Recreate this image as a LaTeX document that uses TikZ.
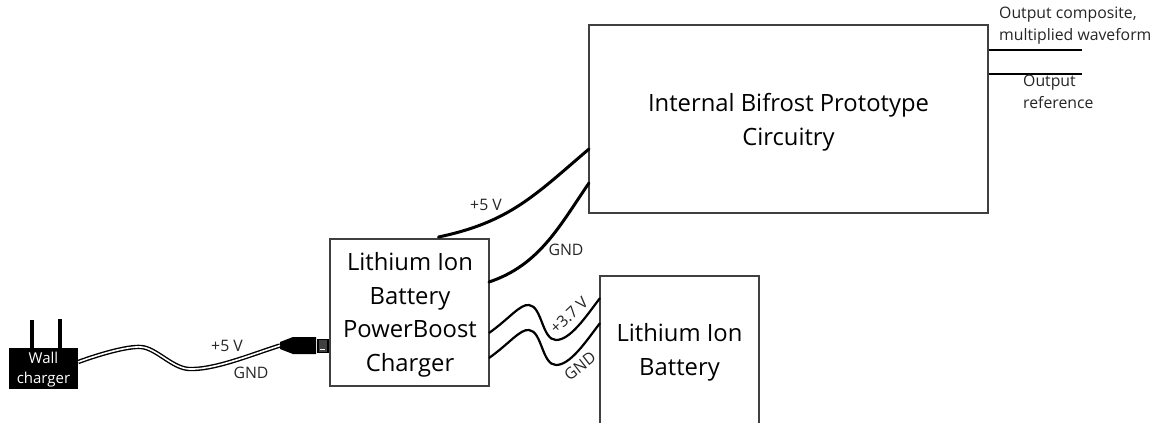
\documentclass[tikz,border=0pt]{standalone}
\usepackage{fontspec}
\setmainfont{Open Sans}
\begin{document}
\begin{tikzpicture}[x=1pt,y=-1pt,
  boxline/.style={draw=black!75,line width=1.5pt},
  block/.style={boxline,inner sep=0pt,align=center,font=\fontsize{23.8}{33.5}\selectfont},
  plainblock/.style={inner sep=0pt,align=center,font=\fontsize{23.8}{33.5}\selectfont},
  blocktext/.style={inner sep=0pt,align=center,font=\fontsize{23.8}{33.5}\selectfont},
  wire/.style={draw=black,line width=2.2pt},
  heavy/.style={draw=black,line width=3pt,line cap=round},
  lab/.style={inner sep=0pt,font=\fontsize{15.8}{22}\selectfont,text=black!85,align=left}]
\useasboundingbox (0,0) rectangle (1158,423);
\fill[white] (0,0) rectangle (1158,423);
% blocks
\node[boxline,minimum width=399pt,minimum height=188pt] (proto) at (788.5,119) {};
\node[blocktext] (prototext) at (788.5,122.5) {Internal Bifrost Prototype\\Circuitry};
\node[boxline,minimum width=159pt,minimum height=147pt] (boost) at (409.5,312.5) {};
\node[blocktext] (boosttext) at (410,315) {Lithium Ion\\Battery\\PowerBoost\\Charger};
\node[plainblock,minimum width=159pt,minimum height=147pt] (batt) at (679.5,349.5) {};
\node[blocktext] (batttext) at (679.5,352.5) {Lithium Ion\\Battery};
\draw[boxline] (batt.south west)--(batt.north west)--(batt.north east)--(batt.south east);
% wall charger
\node[fill=black,minimum width=69pt,minimum height=41pt,inner sep=0pt] (wall) at (43.5,368.5) {};
\node[text=white,inner sep=0pt,align=center,font=\fontsize{15}{20.5}\selectfont] (walltext) at (43.5,369.5) {Wall\\charger};
\coordinate (p1) at (32,320); \coordinate (p2) at (60,319);
\draw[line width=4pt] (p1) -- (p1 |- wall.north);
\draw[line width=4pt] (p2) -- (p2 |- wall.north);
% plug
\coordinate (plugtip) at (280,345.5);
\fill[black] (280,342) -- (293,337) -- (316,337) -- (316,354) -- (293,354) -- (280,349) -- cycle;
\node[draw=black,fill=black!75,line width=1.2pt,minimum width=10pt,minimum height=13pt,inner sep=0pt] (usb) at (323,346) {};
\fill[white] (320,349) rectangle (325,350);
% cable
\draw[black,line width=4.4pt] (wall.east |- 0,362) .. controls (100,354) and (128,346) .. (141,347)
  .. controls (156,348) and (172,368) .. (189,369) .. controls (214,370) and (250,355) .. (plugtip);
\draw[white,line width=1.6pt] (wall.east |- 0,362) .. controls (100,354) and (128,346) .. (141,347)
  .. controls (156,348) and (172,368) .. (189,369) .. controls (214,370) and (250,355) .. (plugtip);
\node[lab] (v5a) at (227,346) {+5 V};
\node[lab] (gnda) at (251,373) {GND};
% upper wires
\coordinate (a1) at (438.5,237); \coordinate (a2) at (589,149);
\coordinate (b1) at (489,282); \coordinate (b2) at (589,183);
\draw[heavy] (a1) .. controls (510,222) and (535,195) .. (a2);
\draw[heavy] (b1) .. controls (540,265) and (560,225) .. (b2);
\node[lab] (v5b) at (486,205) {+5 V};
\node[lab] (gndb) at (566,250) {GND};
% battery wires
\coordinate (c1) at (489,333); \coordinate (c2) at (600,298);
\coordinate (d1) at (489,358); \coordinate (d2) at (600,323);
\draw[wire] (c1) .. controls (510,318) and (520,304) .. (529,305) .. controls (542,306) and (542,340) .. (556,340) .. controls (570,340) and (585,318) .. (c2);
\draw[wire] (d1) .. controls (510,343) and (520,329) .. (529,330) .. controls (542,331) and (542,365) .. (556,365) .. controls (570,365) and (585,343) .. (d2);
\node[lab,rotate=43] (v37) at (569,315.5) {+3.7 V};
\node[lab,rotate=38] (gndc) at (580,366) {GND};
% outputs
\coordinate (e1) at (1082,50); \coordinate (f1) at (1082,74);
\draw[line width=1.8pt] (e1 -| proto.east) -- (e1);
\draw[line width=1.8pt] (f1 -| proto.east) -- (f1);
\node[lab,anchor=north west] (o1) at (999,7) {Output composite,\\multiplied waveform};
\node[lab,anchor=north west] (o2) at (1023,75) {Output\\reference};
\end{tikzpicture}
\end{document}
